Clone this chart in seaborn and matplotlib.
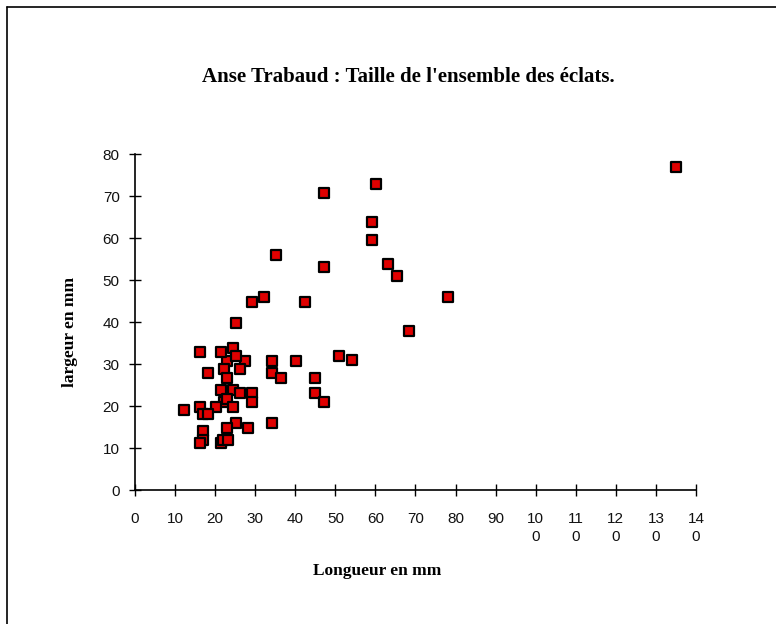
import matplotlib.pyplot as plt
import seaborn as sns
from matplotlib.lines import Line2D

# Taille des éclats (mm)
longueur = [135.1, 60.1, 47.2, 59.2, 59.2, 35.2, 47.2, 63.1, 65.3, 29.2,
            32.1, 42.5, 78.2, 25.3, 68.3, 51.0, 54.2, 40.3, 34.2, 27.4,
            23.0, 16.2, 21.4, 24.4, 25.2, 18.3, 22.2, 26.1, 34.2, 23.0,
            36.4, 45.0, 21.4, 24.4, 26.1, 29.1, 45.0, 22.2, 23.0, 29.1,
            47.2, 12.3, 16.2, 20.1, 24.4, 16.9, 18.3, 25.2, 34.2, 23.0,
            28.3, 17.0, 17.0, 16.2, 21.4, 22.0, 23.1]
largeur = [76.9, 72.9, 70.7, 63.8, 59.6, 55.9, 53.1, 53.9, 50.9, 44.7,
           46.0, 44.7, 46.0, 39.9, 37.8, 32.0, 30.9, 30.8, 30.8, 30.8,
           30.8, 32.8, 32.8, 33.8, 32.0, 28.0, 28.8, 28.8, 28.0, 26.8,
           26.8, 26.8, 23.8, 23.8, 23.0, 23.0, 23.0, 21.0, 21.8, 21.0,
           21.0, 19.0, 19.8, 19.8, 19.8, 18.0, 18.0, 16.0, 16.0, 14.7,
           14.7, 14.1, 11.9, 11.1, 11.1, 11.9, 11.9]

x_ticks = list(range(0, 150, 10))
x_tick_labels = ["0", "10", "20", "30", "40", "50", "60", "70", "80", "90",
                 "10\n0", "11\n0", "12\n0", "13\n0", "14\n0"]
y_ticks = list(range(0, 90, 10))

sns.set_theme(style="white")

fig = plt.figure(figsize=(7.76, 6.24), dpi=100)
ax = fig.add_axes([135 / 776, 1 - 490 / 624, 561 / 776, 335.7 / 624])

sns.scatterplot(x=longueur, y=largeur, marker="s", s=42, color="#e00000",
                edgecolor="black", linewidth=1.6, ax=ax, zorder=3, clip_on=False)

ax.set_xlim(0, 140)
ax.set_ylim(0, 80)
ax.set_xticks(x_ticks)
ax.set_xticklabels(x_tick_labels)
ax.set_yticks(y_ticks)

for side in ["top", "right"]:
    ax.spines[side].set_visible(False)
for side in ["left", "bottom"]:
    ax.spines[side].set_color("black")
    ax.spines[side].set_linewidth(1.2)

ax.tick_params(axis="both", bottom=True, left=True, direction="inout", length=8,
               width=1, color="black", labelsize=11, labelcolor="#111111")
ax.tick_params(axis="x", pad=12)
ax.tick_params(axis="y", pad=7)
for lab in ax.get_xticklabels() + ax.get_yticklabels():
    lab.set_family("Liberation Sans")
for lab in ax.get_xticklabels():
    lab.set_linespacing(1.35)
ax.set_xlabel("")
ax.set_ylabel("")

serif = dict(family="Liberation Serif", fontweight="bold", color="black")
fig.text(408 / 776, 1 - 77 / 624, "Anse Trabaud : Taille de l'ensemble des éclats.",
         ha="center", va="center", fontsize=15, **serif)
fig.text(377 / 776, 1 - 571 / 624, "Longueur en mm", ha="center", va="center",
         fontsize=12.5, **serif)
fig.text(70 / 776, 1 - 332 / 624, "largeur en mm", ha="center", va="center",
         rotation=90, fontsize=12.5, **serif)

# cadre de la zone du graphique
top = 1 - 7 / 624
left = 6.5 / 776
fig.add_artist(Line2D([left, left], [0, top], color="black", lw=1.2))
fig.add_artist(Line2D([left, 1], [top, top], color="black", lw=1.2))

fig.savefig("out.png", dpi=100, facecolor="white")
